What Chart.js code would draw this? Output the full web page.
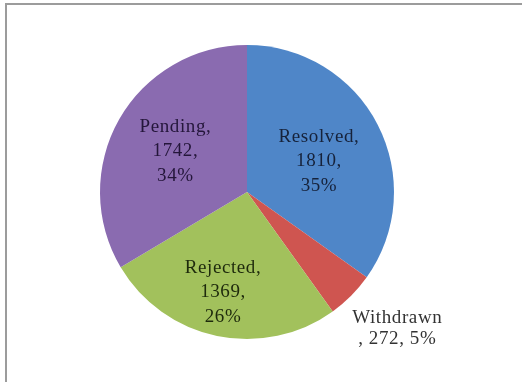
<!DOCTYPE html>
<html>
<head>
<meta charset="utf-8">
<script src="https://cdn.jsdelivr.net/npm/chart.js@4.4.0/dist/chart.umd.min.js"></script>
<style>
  html, body { margin: 0; padding: 0; background: #fff; }
  #wrap { position: relative; width: 522px; height: 382px; }
</style>
</head>
<body>
<div id="wrap"><canvas id="pieChart"></canvas></div>
<script>
const categories = ['Resolved', 'Withdrawn', 'Rejected', 'Pending'];
const counts = [1810, 272, 1369, 1742];
const percents = ['35%', '5%', '26%', '34%'];
const sliceColors = ['#4f86c8', '#cf5550', '#a2c15c', '#8a6bb0'];

// label placement: share of radius, angle nudge (deg), text colour
const labelRadius = [0.533, 1.38, 0.70, 0.56];
const labelShift = [4.0, -2.7, 1.7, 0];
const labelColors = ['#16223a', '#333333', '#1e2a0c', '#24163a'];

const frameLines = {
    id: 'frameLines',
    beforeDraw(chart) {
        const c = chart.ctx;
        c.save();
        c.strokeStyle = '#9c9c9c';
        c.lineWidth = 2;
        c.beginPath();
        c.moveTo(5, 4);
        c.lineTo(522, 4);
        c.moveTo(6, 3);
        c.lineTo(6, 382);
        c.stroke();
        c.restore();
    }
};

const sliceLabels = {
    id: 'sliceLabels',
    afterDatasetsDraw(chart) {
        const c = chart.ctx;
        const meta = chart.getDatasetMeta(0);
        c.save();
        c.font = '19px "Liberation Serif", "DejaVu Serif", serif';
        c.letterSpacing = '0.6px';
        c.textAlign = 'center';
        c.textBaseline = 'middle';
        meta.data.forEach((arc, i) => {
            const p = arc.getProps(['x', 'y', 'startAngle', 'endAngle', 'outerRadius'], true);
            const mid = (p.startAngle + p.endAngle) / 2 + labelShift[i] * Math.PI / 180;
            const r = p.outerRadius * labelRadius[i];
            const cx = p.x + Math.cos(mid) * r;
            const cy = p.y + Math.sin(mid) * r;
            let lines;
            if (categories[i] === 'Withdrawn') {
                lines = [categories[i], ', ' + counts[i] + ', ' + percents[i]];
            } else {
                lines = [categories[i] + ',', counts[i] + ',', percents[i]];
            }
            const lh = i === 1 ? 21 : 24.5;
            const y0 = cy - (lines.length - 1) * lh / 2;
            c.fillStyle = labelColors[i];
            lines.forEach((t, k) => c.fillText(t, cx, y0 + k * lh));
        });
        c.restore();
    }
};

new Chart(document.getElementById('pieChart'), {
    type: 'pie',
    data: {
        labels: categories,
        datasets: [{
            data: counts,
            backgroundColor: sliceColors,
            borderWidth: 0
        }]
    },
    options: {
        responsive: true,
        maintainAspectRatio: false,
        animation: false,
        layout: { padding: { top: 45, bottom: 43, left: 100, right: 128 } },
        plugins: {
            legend: { display: false },
            tooltip: { enabled: false }
        }
    },
    plugins: [frameLines, sliceLabels]
});
</script>
</body>
</html>
